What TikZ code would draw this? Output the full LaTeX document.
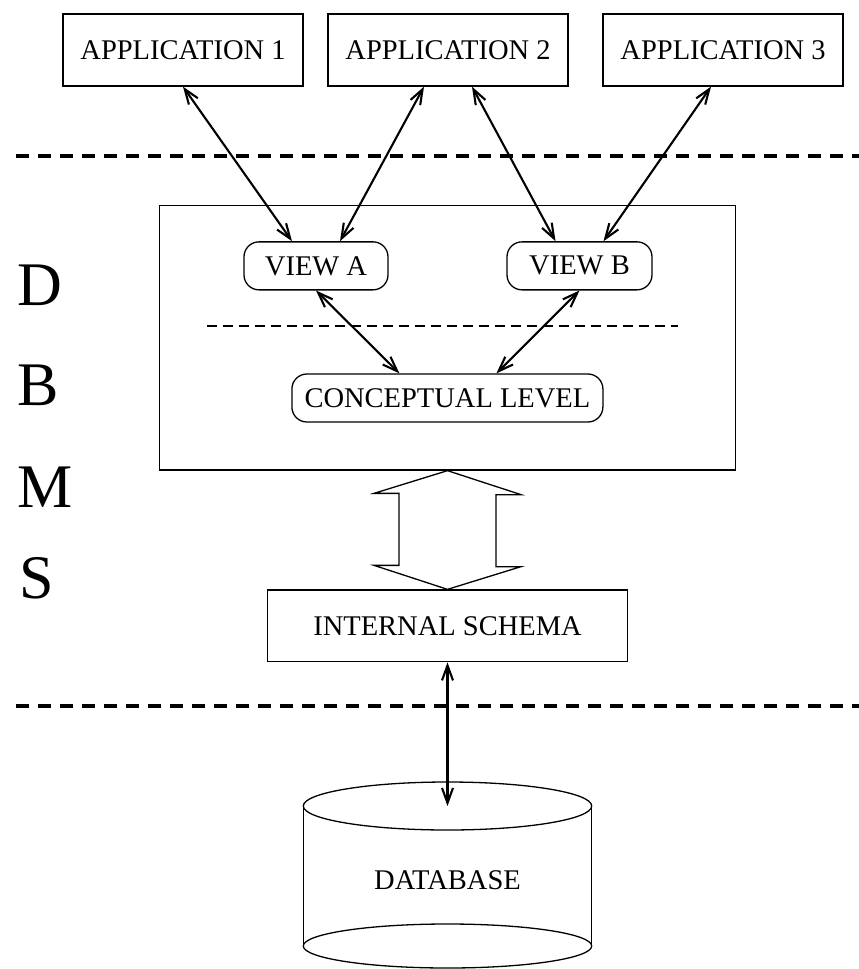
\documentclass[tikz,border=0pt]{standalone}
\usepackage{fontspec}
\setmainfont{Liberation Serif}
\usetikzlibrary{arrows.meta,calc}
\begin{document}
\begin{tikzpicture}[x=1pt,y=-1pt,
  lbl/.style={font=\fontsize{28.5}{30}\selectfont, inner sep=0pt},
  sq/.style={lbl,draw,line width=1.3pt,minimum height=72pt},
  rnd/.style={lbl,draw,line width=1.3pt,rounded corners=15pt,minimum height=48pt},
  tipb/.tip={Straight Barb[length=15pt,width=11pt]},
  link/.style={line width=2.1pt,tipb-tipb},
  sepline/.style={line width=4pt,dash pattern=on 13pt off 9pt},
  thinsep/.style={line width=1.8pt,dash pattern=on 10pt off 6pt},
  big/.style={font=\fontsize{62}{62}\selectfont, inner sep=0pt, anchor=west}]
\useasboundingbox (0,0) rectangle (859,969);
\clip (0,0) rectangle (859,969);
\fill[white] (0,0) rectangle (859,969);

% separators
\coordinate (s1l) at (16,156);
\coordinate (s1r) at (859,156);
\coordinate (s2l) at (16,706);
\coordinate (s2r) at (859,706);
\coordinate (t1l) at (207,325.7);
\coordinate (t1r) at (678.3,325.7);
\draw[sepline] (s1l) -- (s1r);
\draw[sepline] (s2l) -- (s2r);

% nodes
\node[sq,minimum width=240pt] (a1) at (183,50) {APPLICATION 1};
\node[sq,minimum width=240pt] (a2) at (448,50) {APPLICATION 2};
\node[sq,minimum width=240pt] (a3) at (723,50) {APPLICATION 3};
\node[draw,line width=1.3pt,minimum width=576.4pt,minimum height=264.3pt,inner sep=0pt] (dbms) at (447.5,337.85) {};
\draw[thinsep] (t1l) -- (t1r);
\node[rnd,minimum width=144pt] (va) at (316,265.85) {VIEW A};
\node[rnd,minimum width=145pt] (vb) at (579.5,265.85) {VIEW B};
\node[rnd,minimum width=311pt] (cl) at (447.4,398) {CONCEPTUAL LEVEL};
\node[sq,minimum width=360.4pt,minimum height=71.7pt] (is) at (447.5,625.85) {INTERNAL SCHEMA};

% database cylinder
\coordinate (dbtop) at (447.5,806);
\draw[line width=1.3pt] (447.5,946) ellipse [x radius=144.2pt, y radius=22pt];
\draw[line width=1.3pt] (303.3,806) -- (303.3,946);
\draw[line width=1.3pt] (591.7,806) -- (591.7,946);
\draw[line width=1.3pt] (dbtop) ellipse [x radius=144.2pt, y radius=24pt];
\node[lbl] (db) at (447.5,880) {DATABASE};

% DBMS letters
\node[big] (lD) at (17,285.5) {D};
\node[big] (lB) at (17,385) {B};
\node[big] (lM) at (17,487.5) {M};
\node[big] (lS) at (19,578) {S};

% double arrow
\draw[line width=1.3pt] (dbms.south) -- ++(73.5,24) -- ++(-25,0) -- ++(0,72) -- ++(25,0)
  -- (is.north) -- ++(-73.5,-24) -- ++(25,0) -- ++(0,-72) -- ++(-25,0) -- cycle;

% connectors
\draw[link] (a1.south) -- ([xshift=-24pt]va.north);
\draw[link] ([xshift=-24pt]a2.south) -- ([xshift=24pt]va.north);
\draw[link] ([xshift=24pt]a2.south) -- ([xshift=-24pt]vb.north);
\draw[link] ([xshift=-12pt]a3.south) -- ([xshift=24pt]vb.north);
\draw[link] (va.south) -- ([xshift=-48pt]cl.north);
\draw[link] (vb.south) -- ([xshift=49pt]cl.north);
\draw[link] (is.south) -- (dbtop);
\end{tikzpicture}
\end{document}
